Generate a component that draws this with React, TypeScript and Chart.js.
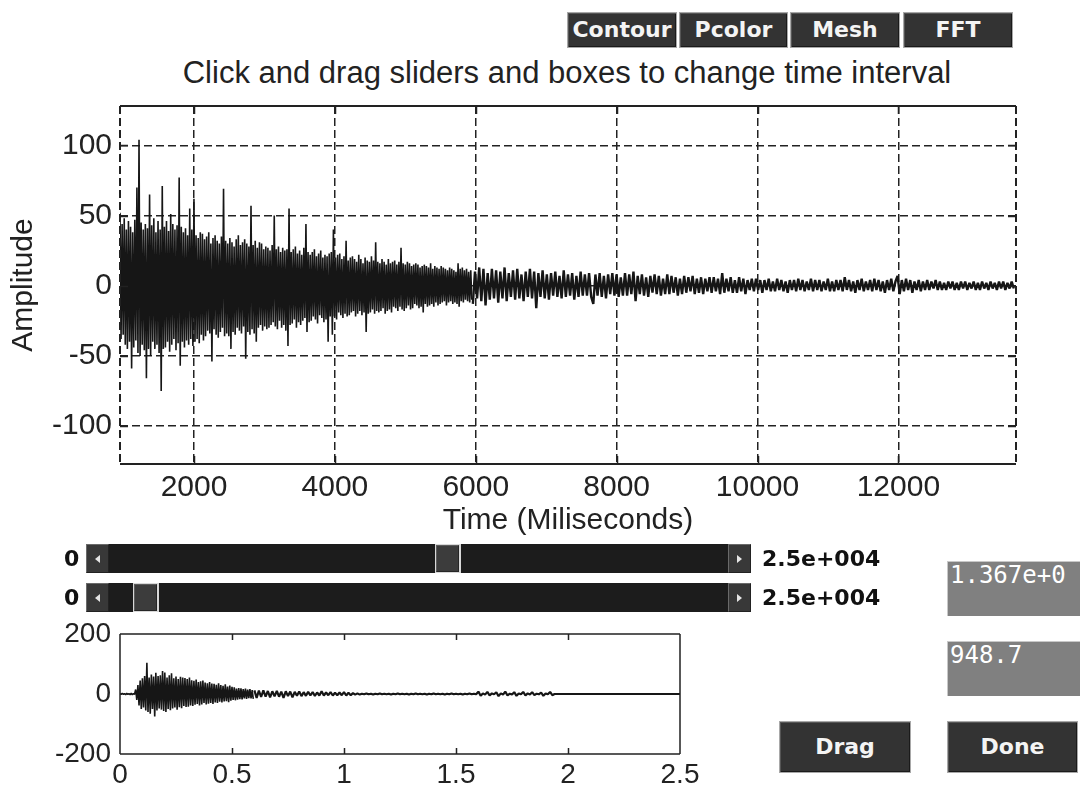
import React, { useEffect, useRef } from "react";
import { Chart, registerables } from "chart.js";

Chart.register(...registerables);

// ---------------- data ----------------
// Main record, part 1: 948.7 ms .. 5943.7 ms sampled every 15 ms
const mainStartMsA = 948.7;
const mainStepMsA = 15;
const mainAmplitudeA = [
  52, -38, 44, -35, 48, -42, 40, -45, 46, -40, 42, -59, 38, -44, 47, -39, 70, -48, 104, -50,
  45, -42, 40, -46, 44, -66, 41, -45, 65, -50, 43, -40, 48, -45, 38, -42, 46, -48, 40, -75,
  71, -45, 42, -44, 46, -40, 39, -47, 51, -42, 44, -38, 40, -46, 43, -41, 77, -57, 42, -40,
  38, -44, 41, -39, 36, -42, 55, -38, 40, -43, 62, -40, 36, -38, 34, -41, 38, -35, 37, -39,
  33, -36, 35, -32, 38, -34, 30, -54, 34, -31, 36, -35, 32, -37, 30, -33, 35, -30, 69, -36,
  32, -34, 30, -36, 34, -45, 31, -33, 28, -35, 33, -30, 36, -32, 29, -34, 31, -29, 33, -52,
  30, -33, 28, -35, 57, -31, 29, -34, 32, -40, 27, -30, 31, -28, 30, -32, 26, -29, 28, -31,
  27, -30, 25, -28, 29, -26, 50, -29, 26, -31, 28, -25, 24, -30, 27, -28, 25, -32, 26, -43,
  55, -28, 24, -27, 26, -24, 28, -30, 23, -26, 25, -28, 22, -25, 27, -23, 44, -33, 24, -26,
  22, -25, 24, -22, 26, -24, 21, -27, 23, -21, 25, -23, 20, -26, 22, -24, 21, -40, 23, -22,
  24, -35, 40, -22, 20, -24, 22, -19, 23, -21, 19, -23, 21, -20, 32, -22, 18, -21, 20, -19,
  21, -18, 19, -22, 17, -20, 22, -18, 19, -21, 16, -19, 20, -33, 18, -20, 17, -19, 21, -17,
  18, -20, 31, -18, 17, -19, 16, -18, 19, -16, 17, -20, 15, -18, 19, -17, 16, -19, 17, -15,
  18, -16, 15, -18, 17, -15, 27, -17, 16, -18, 15, -16, 17, -14, 16, -17, 14, -16, 15, -13,
  16, -14, 15, -16, 13, -15, 14, -19, 15, -13, 14, -15, 13, -14, 16, -13, 12, -15, 14, -12,
  13, -14, 12, -13, 14, -12, 13, -11, 12, -14, 11, -12, 13, -11, 12, -13, 11, -12, 10, -13,
  16, -15, 12, -11, 13, -12, 11, -10, 12, -11, 10, -12, 11, -10,
];
// Main record, part 2: 5958.7 ms .. 13638.7 ms sampled every 30 ms
const mainStartMsB = 5958.7;
const mainStepMsB = 30;
const mainAmplitudeB = [
  -13, 10, -9, 13, -11, 12, -14, 9, -10, 12, -9, 11, -12,
  10, -9, 13, -11, 9, -8, 11, -10, 12, -9, 8, -11, 10, -8, 12, -9, 10, -16, 9, -8,
  11, -9, 8, -10, 9, -7, 10, -8, 7, -9, 11, -8, 8, -7, 9, -10, 7, -8, 10, -7,
  8, -7, 9, -8, -13, 8, -7, 9, -8, 7, -9, 8, -6, 9, -7, 8, -8, 6, -7, 9,
  -7, 8, -6, 10, -11, 7, -6, 8, -7, 6, -8, 7, -5, 8, -6, 7, -7, 5, -6, 8,
  -6, 7, -5, 6, -7, 5, -6, 7, -5, 6, -4, 7, -6, 5, -5, 6, -6, 5, -4, 6,
  -5, 6, -4, 5, -6, 9, -5, 5, -4, 6, -5, 4, -5, 6, -4, 5, -6, 4, -3, 5,
  -4, 5, -3, 4, -5, 4, -3, 5, -4, 3, -4, 5, -3, 4, -4, 3, -5, 4, -3, 4,
  -4, 5, -3, 4, -4, 3, -3, 5, -4, 4, -3, 4, -4, 3, -3, 5, -4, 3, -4, 4,
  -3, 4, -4, 6, -3, 4, -4, 3, -5, 4, -3, 5, -4, 3, -3, 4, -4, 5, -3, 4,
  -4, 3, -5, 4, -3, 5, -4, 3, 7, -6, 4, -4, 5, -3, 4, -5, 3, -3, 4, -4,
  3, -3, 4, -3, 3, -2, 4, -3, 3, -3, 2, -3, 3, -2, 3, -3, 2, -3, 3, -2,
  3, -3, 2, -2, 3, -3, 2, -3, 3, -2, 2, -3, 3, -2, 2, -3, 3, -2, 3, -3, 2, -2, 3, -2,
];
const mainXMin = 948.7;
const mainXMax = 13670;
const mainXTicks = [2000, 4000, 6000, 8000, 10000, 12000];
const mainYTicks = [-100, -50, 0, 50, 100];
const mainTitle = "Click and drag sliders and boxes to change time interval";
const mainXTitle = "Time (Miliseconds)";
const mainYTitle = "Amplitude";

// Overview record, part 1: 0 .. 0.595 every 0.005
const overviewStartA = 0;
const overviewStepA = 0.005;
const overviewAmplitudeA = [
  1, -1, 2, -1, 1, -2, 2, -1, 1, -2, 2, -2, 1, -1, 15, -20, 30, -38, 45, -50,
  52, -45, 60, -55, 104, -60, 55, -66, 65, -50, 58, -75, 71, -55, 60, -48, 62, -52, 77, -57,
  72, -60, 55, -50, 62, -54, 69, -48, 52, -45, 58, -52, 50, -44, 57, -47, 55, -40, 53, -43,
  50, -42, 55, -38, 46, -40, 44, -36, 48, -33, 40, -38, 42, -35, 45, -30, 38, -35, 36, -32,
  40, -30, 35, -33, 34, -28, 31, -30, 36, -26, 30, -28, 27, -25, 32, -24, 25, -27, 28, -22,
  24, -20, 22, -21, 18, -19, 20, -17, 19, -18, 16, -15, 18, -16, 15, -14, 16, -15, 13, -16,
];
// Overview record, part 2: 0.60 .. 2.50 every 0.01
const overviewStartB = 0.6;
const overviewStepB = 0.01;
const overviewAmplitudeB = [
  12, -13, 11, -10, 12, -9, 10, -11, 9, -8,
  10, -9, 8, -13, 9, -7, 8, -11, 7, -6,
  8, -7, 6, -6, 7, -5, 6, -6, 5, -5,
  9, -5, 5, -4, 6, -5, 4, -4, 5, -4,
  6, -5, 4, -4, 3, -2, 2, -2, 1, -1,
  2, -1, 1, -2, 1, -1, 2, -1, 1, -1,
  1, -2, 1, -1, 2, -1, 1, -1, 1, -2,
  1, -1, 2, -1, 1, -1, 1, -2, 1, -1,
  2, -1, 1, -1, 1, -2, 1, -1, 2, -1,
  1, -1, 1, -2, 1, -1, 2, -1, 1, -1,
  8, -6, 2, -2, 7, -5, 2, -1, 6, -7,
  2, -2, 8, -5, 1, -2, 6, -6, 2, -1,
  7, -5, 2, -2, 6, -4, 1, -1, 5, -6,
  2, -1, 7, -4, 0, 0, 0, 0, 0, 0,
  0, 0, 0, 0, 0, 0, 0, 0, 0, 0,
  0, 0, 0, 0, 0, 0, 0, 0, 0, 0,
  0, 0, 0, 0, 0, 0, 0, 0, 0, 0,
  0, 0, 0, 0, 0, 0, 0, 0, 0, 0,
  0, 0, 0, 0, 0, 0, 0, 0, 0, 0,
  0,
];
const overviewXMin = 0;
const overviewXMax = 2.5;
const overviewXTicks = [0, 0.5, 1, 1.5, 2, 2.5];
const overviewYTicks = [-200, 0, 200];

const toolbarLabels = ["Contour", "Pcolor", "Mesh", "FFT"];
const sliderMinLabel = "0";
const sliderMaxLabel = "2.5e+004";
const maxBoxText = "1.367e+0";
const minBoxText = "948.7";
const dragLabel = "Drag";
const doneLabel = "Done";

// ---------------- styling helpers ----------------
const SANS = "'Liberation Sans', Arial, Helvetica, sans-serif";
const BOLD_UI = "'DejaVu Sans', 'Liberation Sans', sans-serif";
const MONO = "'DejaVu Sans Mono', 'Liberation Mono', monospace";
const INK = "#222";
const TRACE = "#161616";

function toPoints(values: number[], start: number, step: number) {
  return values.map((a, i) => ({ x: start + i * step, y: a }));
}

function traceDataset(points: { x: number; y: number }[], width: number) {
  return {
    data: points,
    borderColor: TRACE,
    borderWidth: width,
    pointRadius: 0,
    tension: 0,
    fill: false,
    borderJoinStyle: "bevel",
  } as any;
}

function makeFramePlugin(
  id: string,
  cfg: { sideDash: number[] | null; ticksX: number[]; ticksY: number[]; tickLen: number; lineWidth: number }
) {
  return {
    id,
    afterDatasetsDraw(chart: any) {
      const { ctx, chartArea } = chart;
      const { left, right, top, bottom } = chartArea;
      const xs = chart.scales.x;
      const ys = chart.scales.y;
      ctx.save();
      ctx.strokeStyle = INK;
      ctx.lineWidth = cfg.lineWidth;
      ctx.beginPath();
      ctx.moveTo(left, top);
      ctx.lineTo(right, top);
      ctx.moveTo(left, bottom);
      ctx.lineTo(right, bottom);
      if (!cfg.sideDash) {
        ctx.moveTo(left, top);
        ctx.lineTo(left, bottom);
        ctx.moveTo(right, top);
        ctx.lineTo(right, bottom);
      }
      ctx.stroke();
      if (cfg.sideDash) {
        ctx.setLineDash(cfg.sideDash);
        ctx.beginPath();
        ctx.moveTo(left, top);
        ctx.lineTo(left, bottom);
        ctx.moveTo(right, top);
        ctx.lineTo(right, bottom);
        ctx.stroke();
        ctx.setLineDash([]);
      }
      ctx.lineWidth = 1.5;
      ctx.beginPath();
      cfg.ticksX.forEach((v) => {
        const px = Math.round(xs.getPixelForValue(v)) + 0.5;
        if (px <= left + 2 || px >= right - 2) return;
        ctx.moveTo(px, bottom);
        ctx.lineTo(px, bottom - cfg.tickLen);
        ctx.moveTo(px, top);
        ctx.lineTo(px, top + cfg.tickLen);
      });
      cfg.ticksY.forEach((v) => {
        const py = Math.round(ys.getPixelForValue(v)) + 0.5;
        if (py <= top + 2 || py >= bottom - 2) return;
        ctx.moveTo(left, py);
        ctx.lineTo(left + cfg.tickLen, py);
        ctx.moveTo(right, py);
        ctx.lineTo(right - cfg.tickLen, py);
      });
      ctx.stroke();
      ctx.restore();
    },
  };
}

// ---------------- UI pieces ----------------
function DarkButton(props: { left: number; top: number; width: number; height: number; label: string; size: number }) {
  return (
    <div
      style={{
        position: "absolute",
        left: props.left,
        top: props.top,
        width: props.width,
        height: props.height,
        boxSizing: "border-box",
        background: "#333",
        border: "1px solid #a8a8a8",
        boxShadow: "inset 1px 1px 0 #555, inset -1px -1px 0 #1a1a1a",
        color: "#f4f4f4",
        fontFamily: BOLD_UI,
        fontWeight: "bold",
        fontSize: props.size,
        lineHeight: props.height - 2 + "px",
        textAlign: "center",
        whiteSpace: "nowrap",
        overflow: "hidden",
      }}
    >
      {props.label}
    </div>
  );
}

function ArrowButton(props: { left: number; top: number; height: number; dir: "left" | "right" }) {
  const tri: React.CSSProperties =
    props.dir === "left"
      ? { borderTop: "4px solid transparent", borderBottom: "4px solid transparent", borderRight: "5px solid #e6e6e6" }
      : { borderTop: "4px solid transparent", borderBottom: "4px solid transparent", borderLeft: "5px solid #e6e6e6" };
  return (
    <div
      style={{
        position: "absolute",
        left: props.left,
        top: props.top,
        width: 23,
        height: props.height,
        boxSizing: "border-box",
        background: "#383838",
        border: "1px solid #6a6a6a",
        borderRightColor: "#222",
        borderBottomColor: "#222",
      }}
    >
      <div style={{ position: "absolute", left: 8, top: props.height / 2 - 5, width: 0, height: 0, ...tri }} />
    </div>
  );
}

function SliderRow(props: { top: number; thumbLeft: number; thumbWidth: number }) {
  const h = 29;
  const trackLeft = 109;
  const trackRight = 728;
  return (
    <>
      <div
        style={{
          position: "absolute",
          left: 64,
          top: props.top,
          height: h,
          lineHeight: h + "px",
          fontFamily: BOLD_UI,
          fontWeight: "bold",
          fontSize: 22,
          color: "#111",
        }}
      >
        {sliderMinLabel}
      </div>
      <ArrowButton left={86} top={props.top} height={h} dir="left" />
      <div
        style={{
          position: "absolute",
          left: trackLeft,
          top: props.top,
          width: trackRight - trackLeft,
          height: h,
          background: "#1c1c1c",
        }}
      />
      <div
        style={{
          position: "absolute",
          left: props.thumbLeft - 1,
          top: props.top,
          width: props.thumbWidth + 3,
          height: h,
          background: "#d8d8d8",
        }}
      />
      <div
        style={{
          position: "absolute",
          left: props.thumbLeft,
          top: props.top + 1,
          width: props.thumbWidth,
          height: h - 2,
          boxSizing: "border-box",
          background: "#3c3c3c",
          border: "1px solid #5c5c5c",
          borderRightColor: "#262626",
          borderBottomColor: "#262626",
        }}
      />
      <ArrowButton left={trackRight} top={props.top} height={h} dir="right" />
      <div
        style={{
          position: "absolute",
          left: 762,
          top: props.top,
          height: h,
          lineHeight: h + "px",
          fontFamily: BOLD_UI,
          fontWeight: "bold",
          fontSize: 22,
          color: "#111",
          whiteSpace: "nowrap",
        }}
      >
        {sliderMaxLabel}
      </div>
    </>
  );
}

function GrayBox(props: { top: number; text: string }) {
  return (
    <div
      style={{
        position: "absolute",
        left: 947,
        top: props.top,
        width: 133,
        height: 55,
        boxSizing: "border-box",
        background: "#808080",
        borderTop: "1px solid #c8c8c8",
        borderLeft: "1px solid #c8c8c8",
        overflow: "hidden",
      }}
    >
      <div
        style={{
          position: "absolute",
          left: 2,
          top: 1,
          fontFamily: MONO,
          fontSize: 24,
          lineHeight: "24px",
          color: "#fff",
          whiteSpace: "nowrap",
        }}
      >
        {props.text}
      </div>
    </div>
  );
}

// ---------------- App ----------------
export default function App() {
  const mainRef = useRef<HTMLCanvasElement | null>(null);
  const overRef = useRef<HTMLCanvasElement | null>(null);

  useEffect(() => {
    if (!mainRef.current || !overRef.current) return;

    const gridLine = { color: INK, lineWidth: 1.5, drawTicks: false };
    const gridBorder = { display: false, dash: [8, 4] };

    const mainChart = new Chart(mainRef.current, {
      type: "line",
      data: {
        datasets: [
          traceDataset(toPoints(mainAmplitudeA, mainStartMsA, mainStepMsA), 1.6),
          traceDataset(toPoints(mainAmplitudeB, mainStartMsB, mainStepMsB), 2.4),
        ],
      },
      options: {
        animation: false,
        responsive: false,
        events: [],
        layout: { padding: { top: 46, right: 64, bottom: 0, left: 0 } },
        plugins: { legend: { display: false }, tooltip: { enabled: false }, title: { display: false } },
        scales: {
          x: {
            type: "linear",
            min: mainXMin,
            max: mainXMax,
            afterBuildTicks: (s: any) => {
              s.ticks = mainXTicks.map((v) => ({ value: v }));
            },
            afterFit: (s: any) => {
              s.height = 86;
            },
            grid: gridLine,
            border: gridBorder,
            ticks: {
              padding: 6,
              color: INK,
              font: { family: SANS, size: 30 },
              maxRotation: 0,
              autoSkip: false,
              callback: (v: any) => String(v),
            },
            title: {
              display: true,
              text: mainXTitle,
              color: INK,
              font: { family: SANS, size: 30 },
              padding: { top: 0, bottom: 11 },
            },
          },
          y: {
            type: "linear",
            min: -127,
            max: 128,
            afterBuildTicks: (s: any) => {
              s.ticks = mainYTicks.map((v) => ({ value: v }));
            },
            afterFit: (s: any) => {
              s.width = 120;
            },
            grid: gridLine,
            border: gridBorder,
            ticks: {
              padding: 8,
              color: INK,
              font: { family: SANS, size: 30 },
              callback: (v: any) => String(v),
            },
            title: {
              display: true,
              text: mainYTitle,
              color: INK,
              font: { family: SANS, size: 30 },
              padding: { top: 6, bottom: 0 },
            },
          },
        } as any,
      },
      plugins: [
        makeFramePlugin("mainFrame", {
          sideDash: [8, 4],
          ticksX: mainXTicks,
          ticksY: mainYTicks,
          tickLen: 8,
          lineWidth: 2,
        }),
      ],
    });

    const overChart = new Chart(overRef.current, {
      type: "line",
      data: {
        datasets: [
          traceDataset(toPoints(overviewAmplitudeA, overviewStartA, overviewStepA), 1.6),
          traceDataset(toPoints(overviewAmplitudeB, overviewStartB, overviewStepB), 2.2),
        ],
      },
      options: {
        animation: false,
        responsive: false,
        events: [],
        layout: { padding: { top: 34, right: 40, bottom: 0, left: 0 } },
        plugins: { legend: { display: false }, tooltip: { enabled: false }, title: { display: false } },
        scales: {
          x: {
            type: "linear",
            min: overviewXMin,
            max: overviewXMax,
            afterBuildTicks: (s: any) => {
              s.ticks = overviewXTicks.map((v) => ({ value: v }));
            },
            afterFit: (s: any) => {
              s.height = 38;
            },
            grid: { display: false, drawTicks: false },
            border: { display: false },
            ticks: {
              padding: 4,
              color: INK,
              font: { family: SANS, size: 28 },
              maxRotation: 0,
              autoSkip: false,
              callback: (v: any) => String(v),
            },
          },
          y: {
            type: "linear",
            min: -200,
            max: 200,
            afterBuildTicks: (s: any) => {
              s.ticks = overviewYTicks.map((v) => ({ value: v }));
            },
            afterFit: (s: any) => {
              s.width = 120;
            },
            grid: { display: false, drawTicks: false },
            border: { display: false },
            ticks: {
              padding: 9,
              color: INK,
              font: { family: SANS, size: 28 },
              callback: (v: any) => String(v),
            },
          },
        } as any,
      },
      plugins: [
        makeFramePlugin("overFrame", {
          sideDash: null,
          ticksX: overviewXTicks,
          ticksY: [],
          tickLen: 6,
          lineWidth: 1.5,
        }),
      ],
    });

    return () => {
      mainChart.destroy();
      overChart.destroy();
    };
  }, []);

  const toolbarGeom = [
    { left: 567, width: 110 },
    { left: 679, width: 109 },
    { left: 790, width: 110 },
    { left: 903, width: 110 },
  ];

  return (
    <div
      style={{
        position: "absolute",
        left: 0,
        top: 0,
        width: 1080,
        height: 792,
        background: "#fff",
        overflow: "hidden",
      }}
    >
      {toolbarLabels.map((label, i) => (
        <DarkButton
          key={label}
          left={toolbarGeom[i].left}
          top={12}
          width={toolbarGeom[i].width}
          height={36}
          label={label}
          size={22}
        />
      ))}
      <div
        style={{
          position: "absolute",
          left: 167,
          top: 58,
          width: 800,
          textAlign: "center",
          fontFamily: SANS,
          fontSize: 31,
          lineHeight: "30px",
          color: INK,
          whiteSpace: "nowrap",
        }}
      >
        {mainTitle}
      </div>
      <canvas ref={mainRef} width={1080} height={490} style={{ position: "absolute", left: 0, top: 60 }} />
      <canvas ref={overRef} width={720} height={192} style={{ position: "absolute", left: 0, top: 600 }} />
      <SliderRow top={544} thumbLeft={436} thumbWidth={23} />
      <SliderRow top={583} thumbLeft={134} thumbWidth={23} />
      <GrayBox top={561} text={maxBoxText} />
      <GrayBox top={641} text={minBoxText} />
      <DarkButton left={779} top={721} width={132} height={52} label={dragLabel} size={22} />
      <DarkButton left={947} top={721} width={131} height={52} label={doneLabel} size={22} />
    </div>
  );
}
